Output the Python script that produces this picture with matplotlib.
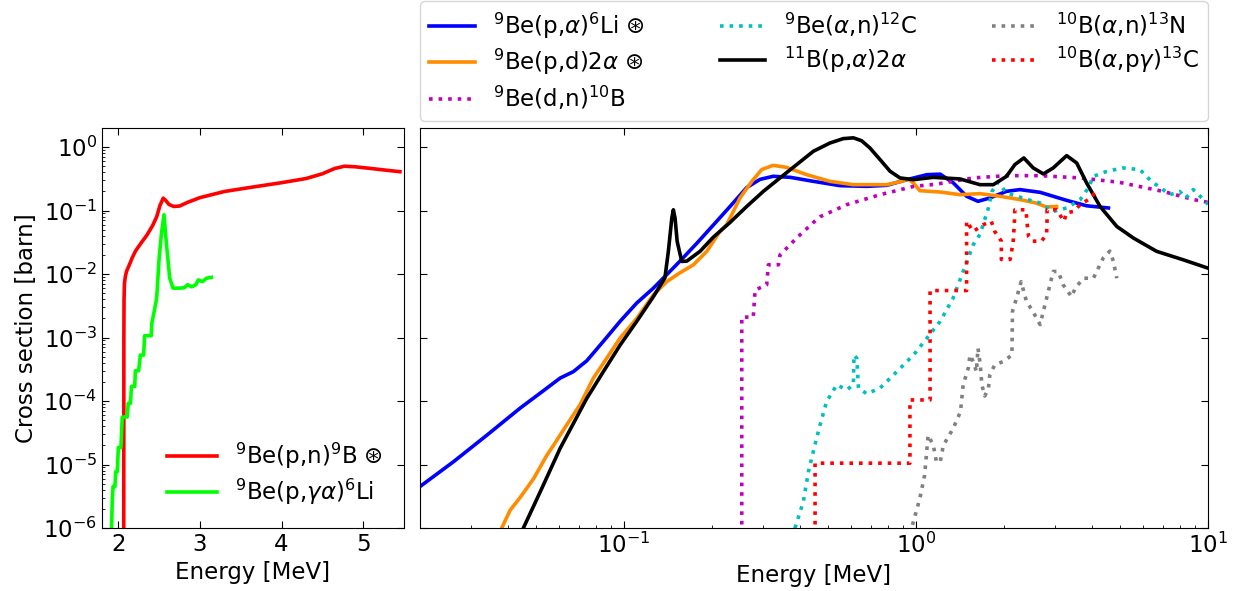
import matplotlib
matplotlib.use("Agg")
import matplotlib.pyplot as plt
from matplotlib.ticker import NullLocator, NullFormatter, FixedLocator

# ---------------- Left panel data ----------------
be_pn_E = [2.066, 2.068, 2.070, 2.075, 2.085, 2.10, 2.13, 2.17, 2.21, 2.28, 2.35, 2.42, 2.47, 2.51,
           2.55, 2.58, 2.62, 2.68, 2.75, 2.85, 3.0, 3.3, 3.6, 4.0, 4.3, 4.5, 4.65, 4.77, 4.9, 5.1,
           5.3, 5.45]
be_pn_S = [1e-7, 1e-3, 4e-3, 7e-3, 9e-3, 1.1e-2, 1.35e-2, 1.8e-2, 2.3e-2, 3.1e-2, 4.1e-2, 5.8e-2,
           8e-2, 0.12, 0.157, 0.145, 0.125, 0.116, 0.118, 0.135, 0.16, 0.20, 0.23, 0.275, 0.32,
           0.38, 0.46, 0.50, 0.49, 0.46, 0.43, 0.41]

be_pga_E = [1.915, 1.925, 1.935, 1.959, 1.967, 1.988, 2.0, 2.032, 2.048, 2.109, 2.121, 2.149, 2.161,
            2.201, 2.209, 2.249, 2.270, 2.310, 2.322, 2.403, 2.411, 2.44, 2.47, 2.50, 2.53, 2.56,
            2.575, 2.59, 2.63, 2.67, 2.75, 2.81, 2.85, 2.9, 2.95, 2.98, 3.03, 3.08, 3.14]
be_pga_S = [8e-7, 2.5e-6, 4.5e-6, 4.5e-6, 7.7e-6, 7.7e-6, 1.85e-5, 1.85e-5, 5.6e-5, 5.6e-5, 9.2e-5,
            9.2e-5, 1.7e-4, 1.7e-4, 3.0e-4, 3.0e-4, 5.3e-4, 5.3e-4, 1.07e-3, 1.07e-3, 1.7e-3, 2.6e-3,
            4.2e-3, 1.78e-2, 4.5e-2, 8.6e-2, 5.0e-2, 2.9e-2, 8.6e-3, 6.0e-3, 6.0e-3, 6.1e-3, 6.8e-3,
            6.3e-3, 6.8e-3, 8.1e-3, 7.6e-3, 8.6e-3, 8.9e-3]

# ---------------- Right panel data ----------------
be_pa_E = [0.02, 0.026, 0.0339, 0.044, 0.053, 0.0604, 0.067, 0.0745, 0.0849, 0.0969, 0.1105, 0.126,
           0.14, 0.155, 0.178, 0.202, 0.2306, 0.263, 0.292, 0.324, 0.371, 0.445, 0.549, 0.678, 0.794,
           0.93, 1.09, 1.21, 1.343, 1.49, 1.63, 1.79, 2.04, 2.27, 2.66, 3.28, 3.84, 4.56]
be_pa_S = [4.5e-6, 1.1e-5, 2.9e-5, 7.7e-5, 1.46e-4, 2.3e-4, 2.9e-4, 4.3e-4, 8.7e-4, 1.8e-3, 3.5e-3,
           6.0e-3, 9.8e-3, 0.0158, 0.031, 0.059, 0.116, 0.23, 0.31, 0.347, 0.334, 0.289, 0.247,
           0.241, 0.25, 0.307, 0.368, 0.375, 0.272, 0.168, 0.14, 0.158, 0.201, 0.214, 0.194, 0.145,
           0.119, 0.11]

be_pd_E = [0.036, 0.0381, 0.0407, 0.044, 0.049, 0.0544, 0.0573, 0.0636, 0.0706, 0.0785, 0.0828,
           0.0969, 0.1105, 0.126, 0.14, 0.155, 0.1728, 0.192, 0.213, 0.2247, 0.2495, 0.274, 0.296,
           0.324, 0.36, 0.422, 0.507, 0.61, 0.794, 0.894, 0.94, 0.98, 1.03, 1.21, 1.415, 1.655,
           1.94, 2.27, 2.57, 2.80, 3.03]
be_pd_S = [5e-7, 1e-6, 1.9e-6, 3.0e-6, 6.0e-6, 1.4e-5, 2.0e-5, 4.2e-5, 8.7e-5, 2.3e-4, 3.3e-4,
           9.8e-4, 2.0e-3, 4.7e-3, 7.6e-3, 0.0104, 0.014, 0.0228, 0.047, 0.06, 0.158, 0.289, 0.442,
           0.516, 0.48, 0.368, 0.289, 0.256, 0.256, 0.289, 0.315, 0.272, 0.206, 0.196, 0.178, 0.185,
           0.168, 0.149, 0.132, 0.114, 0.116]

be_dn_E = [0.253, 0.253, 0.277, 0.281, 0.308, 0.312, 0.338, 0.342, 0.39, 0.445, 0.469, 0.579,
           0.753, 0.98, 1.17, 1.57, 2.04, 2.66, 3.65, 4.97, 7.0, 8.93, 10.0]
be_dn_S = [1e-7, 2.1e-3, 2.1e-3, 5.6e-3, 6.8e-3, 0.014, 0.014, 0.02, 0.037, 0.065, 0.08, 0.124,
           0.178, 0.24, 0.26, 0.327, 0.355, 0.355, 0.327, 0.279, 0.201, 0.149, 0.135]

be_an_E = [0.38, 0.385, 0.411, 0.428, 0.45, 0.469, 0.494, 0.535, 0.579, 0.61, 0.613, 0.627, 0.635,
           0.678, 0.753, 0.859, 0.98, 1.21, 1.34, 1.45, 1.57, 1.655, 1.77, 1.82, 1.91, 2.04, 2.40,
           2.66, 2.95, 3.28, 3.65, 3.89, 4.05, 4.5, 5.1, 5.85, 6.4, 7.41, 8.0, 8.4, 8.9, 9.8, 10.0]
be_an_S = [5e-7, 1e-6, 2.6e-6, 7.7e-6, 2.0e-5, 4.2e-5, 9.8e-5, 1.8e-4, 1.5e-4, 1.8e-4, 5.3e-4,
           4.7e-4, 1.6e-4, 1.3e-4, 1.6e-4, 2.9e-4, 5.3e-4, 1.8e-3, 4.2e-3, 0.011, 0.029, 0.042,
           0.11, 0.20, 0.28, 0.19, 0.15, 0.132, 0.097, 0.11, 0.149, 0.227, 0.346, 0.415, 0.47, 0.442,
           0.289, 0.178, 0.20, 0.158, 0.214, 0.14, 0.125]

b_pa_E = [0.043, 0.0452, 0.0516, 0.0604, 0.0745, 0.0849, 0.0969, 0.1105, 0.126, 0.138, 0.1418,
          0.1457, 0.1475, 0.1495, 0.152, 0.1576, 0.164, 0.182, 0.202, 0.2306, 0.263, 0.300, 0.342,
          0.39, 0.445, 0.507, 0.563, 0.61, 0.651, 0.695, 0.753, 0.815, 0.881, 0.98, 1.146, 1.415,
          1.655, 1.84, 2.04, 2.18, 2.34, 2.52, 2.73, 2.95, 3.28, 3.55, 3.84, 4.27, 4.87, 5.55, 6.67,
          8.22, 10.0]
b_pa_S = [5e-7, 1e-6, 3.7e-6, 1.8e-5, 1.1e-4, 2.9e-4, 7.6e-4, 1.8e-3, 4.4e-3, 8.7e-3, 0.0228,
          0.076, 0.103, 0.076, 0.0327, 0.0158, 0.016, 0.0228, 0.038, 0.065, 0.116, 0.201, 0.327,
          0.53, 0.86, 1.16, 1.36, 1.40, 1.26, 0.97, 0.635, 0.416, 0.327, 0.307, 0.334, 0.315,
          0.256, 0.256, 0.346, 0.53, 0.675, 0.47, 0.378, 0.47, 0.734, 0.563, 0.272, 0.116, 0.0563,
          0.037, 0.0228, 0.0168, 0.0124]

b_an_E = [0.953, 1.03, 1.07, 1.10, 1.146, 1.175, 1.21, 1.24, 1.34, 1.42, 1.45, 1.51, 1.53, 1.57,
          1.61, 1.63, 1.66, 1.68, 1.72, 1.77, 1.79, 1.86, 1.99, 2.13, 2.14, 2.21, 2.29, 2.39, 2.51,
          2.66, 2.73, 2.84, 2.95, 3.07, 3.19, 3.41, 3.51, 3.74, 4.05, 4.21, 4.38, 4.61, 4.74, 4.87]
b_an_S = [8e-7, 2.9e-6, 6.8e-6, 2.9e-5, 2.0e-5, 1.1e-5, 1.1e-5, 2.0e-5, 3.7e-5, 6.8e-5, 1.8e-4,
          3.3e-4, 5.3e-4, 4.2e-4, 2.9e-4, 6.8e-4, 3.7e-4, 1.8e-4, 1.2e-4, 1.6e-4, 2.6e-4, 3.7e-4,
          4.2e-4, 5.3e-4, 2.6e-3, 4.2e-3, 7.6e-3, 3.7e-3, 2.6e-3, 1.6e-3, 2.6e-3, 5.4e-3, 0.011,
          0.011, 6.8e-3, 4.4e-3, 6.0e-3, 8.6e-3, 8.6e-3, 0.0124, 0.018, 0.023, 0.016, 8.6e-3]

b_apg_E = [0.451, 0.451, 0.953, 0.953, 1.117, 1.117, 1.415, 1.49, 1.49, 1.57, 1.70, 1.81, 1.86,
           1.96, 1.96, 2.10, 2.15, 2.17, 2.18, 2.38, 2.40, 2.43, 2.51, 2.69, 2.80, 2.81, 2.81, 3.03,
           3.21, 3.28, 3.46, 3.65, 3.89, 4.10]
b_apg_S = [1e-7, 1.05e-5, 1.05e-5, 1.04e-4, 1.04e-4, 5.5e-3, 5.5e-3, 5.5e-3, 0.068, 0.047, 0.060,
           0.068, 0.047, 0.033, 0.017, 0.017, 0.031, 0.060, 0.103, 0.103, 0.064, 0.039, 0.033, 0.033,
           0.042, 0.068, 0.103, 0.103, 0.068, 0.092, 0.097, 0.124, 0.149, 0.19]

y_ticks = [1e-6, 1e-5, 1e-4, 1e-3, 1e-2, 1e-1, 1e0]
x_ticks_right = [1e-1, 1e0, 1e1]

labels = [r'$^{9}$Be(p,$\alpha$)$^{6}$Li ⊛',
          r'$^{9}$Be(p,d)2$\alpha$ ⊛',
          r'$^{9}$Be(d,n)$^{10}$B',
          r'$^{9}$Be($\alpha$,n)$^{12}$C',
          r'$^{11}$B(p,$\alpha$)2$\alpha$',
          r'$^{10}$B($\alpha$,n)$^{13}$N',
          r'$^{10}$B($\alpha$,p$\gamma$)$^{13}$C']
left_labels = [r'$^{9}$Be(p,n)$^{9}$B ⊛', r'$^{9}$Be(p,$\gamma\alpha$)$^{6}$Li']

plt.rcParams['font.family'] = ['DejaVu Sans']
plt.rcParams['mathtext.fontset'] = 'dejavusans'

FS = 16.5
fig = plt.figure(figsize=(12.4, 5.91), dpi=100)
ax1 = fig.add_axes([102/1240, 63/591, 302/1240, 400/591])
ax2 = fig.add_axes([420/1240, 63/591, 788/1240, 400/591])

lw = 2.6
ax1.plot(be_pn_E, be_pn_S, color='red', lw=lw, label=left_labels[0])
ax1.plot(be_pga_E, be_pga_S, color='lime', lw=lw, label=left_labels[1])
ax1.set_yscale('log')
ax1.set_yticks(y_ticks)
ax1.set_xlim(1.8, 5.5)
ax1.set_ylim(1e-6, 2)
ax1.set_xticks([2, 3, 4, 5])
ax1.yaxis.set_minor_formatter(NullFormatter())
ax1.set_xlabel('Energy [MeV]', fontsize=FS)
ax1.set_ylabel('Cross section [barn]', fontsize=FS)
ax1.tick_params(axis='both', which='major', direction='in', top=True, right=True,
                length=5, labelsize=FS)
ax1.tick_params(axis='y', which='minor', direction='in', left=True, right=False, length=2.5)
ax1.legend(loc='lower right', frameon=False, fontsize=FS, handlelength=2.2,
           labelspacing=0.27, borderaxespad=0.5)

ax2.plot(be_pa_E, be_pa_S, color='blue', lw=lw, label=labels[0])
ax2.plot(be_pd_E, be_pd_S, color='darkorange', lw=lw, label=labels[1])
ax2.plot(be_dn_E, be_dn_S, color='m', lw=lw, ls=':', label=labels[2])
ax2.plot(be_an_E, be_an_S, color='c', lw=lw, ls=':', label=labels[3])
ax2.plot(b_pa_E, b_pa_S, color='black', lw=lw, label=labels[4])
ax2.plot(b_an_E, b_an_S, color='gray', lw=lw, ls=':', label=labels[5])
ax2.plot(b_apg_E, b_apg_S, color='red', lw=lw, ls=':', label=labels[6])
ax2.set_xscale('log')
ax2.set_yscale('log')
ax2.set_xticks(x_ticks_right)
ax2.set_yticks(y_ticks)
ax2.set_xlim(0.02, 10)
ax2.set_ylim(1e-6, 2)
ax2.xaxis.set_minor_formatter(NullFormatter())
ax2.set_xlabel('Energy [MeV]', fontsize=FS)
ax2.tick_params(axis='both', which='major', direction='in', top=True, right=True,
                length=5, labelsize=FS, labelleft=False)
ax2.tick_params(axis='x', which='minor', direction='in', top=False, bottom=True, length=2.5)
ax2.yaxis.set_minor_locator(NullLocator())
ax2.legend(loc='lower left', bbox_to_anchor=(0, 1.018, 1, 0.3), mode='expand', ncol=3,
           fontsize=FS, borderaxespad=0, handlelength=2.0, labelspacing=0.27)

fig.savefig('out.png', dpi=100)
